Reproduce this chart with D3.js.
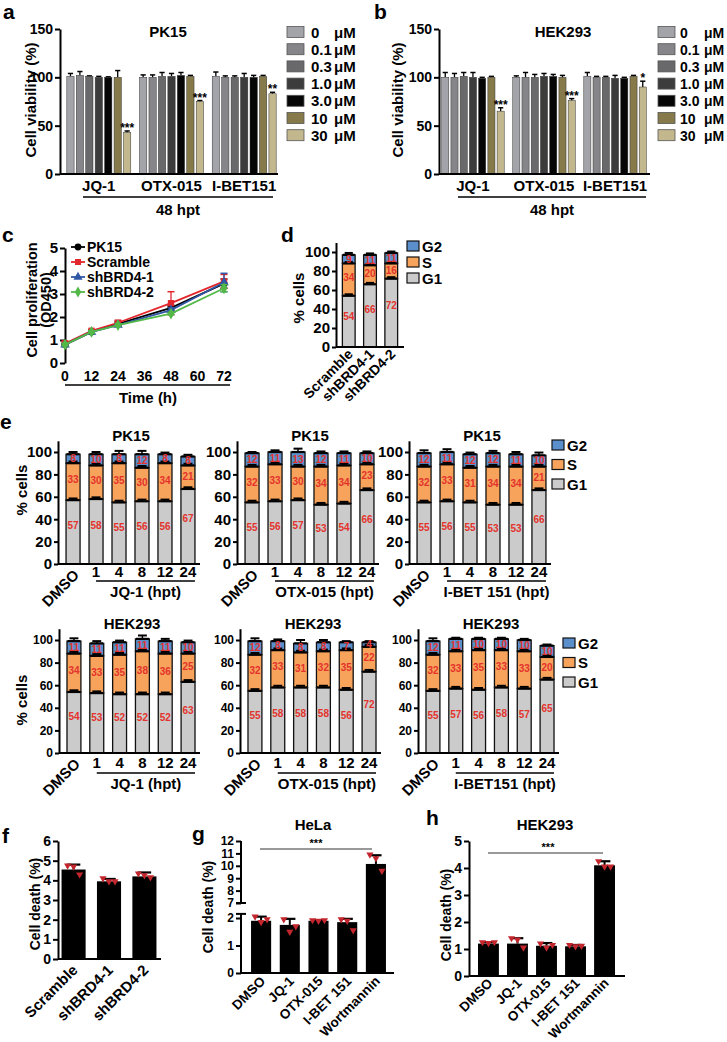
<!DOCTYPE html>
<html><head><meta charset="utf-8">
<script src="https://cdn.jsdelivr.net/npm/d3@7"></script>
<style>
body{margin:0;background:#fff;}
text{font-family:"Liberation Sans",Arial,Helvetica,sans-serif;font-weight:bold;}
</style></head><body>
<svg id="fig" width="727" height="1042"></svg>
<script>
// ---------------- DATA ----------------
const concLabels = ["0","0.1","0.3","1.0","3.0","10","30"];
const concColors = ["#a3a3aa","#86868a","#69696c","#3c3c3c","#060606","#877a4a","#c3b88d"];
const drugs = ["JQ-1","OTX-015","I-BET151"];
const vTicks = [0,50,100,150];
const pk15Viab = [[101,102,101,100,100,100,43],[100,100,101,101,102,101,75],[101,100,100,100,100,101,83]];
const pk15Err  = [[3,4,0.5,1,0.5,7,1.5],[2.5,2.5,4,3,3,1,1],[4.5,1.5,1.5,4,2,1,1.5]];
const pk15Sig  = ["***","***","**"];
const hekViab  = [[100,100,101,100,99,100,65],[100,100,100,101,101,100,76],[101,100,100,99,99,101,90]];
const hekErr   = [[5,4,4,5,1,1,3.5],[1.5,5,3,3,2,2,2],[4,1,1,3,1,1,6]];
const hekSig   = ["***","***","*"];

const cTimes = [0,12,24,48,72];
const cTicks = [0,12,24,36,48,60,72];
const cNames = ["PK15","Scramble","shBRD4-1","shBRD4-2"];
const cPK15     = [0.8,1.35,1.7,2.4,3.45];
const cScramble = [0.85,1.4,1.75,2.6,3.55];
const cSh1      = [0.8,1.35,1.65,2.3,3.5];
const cSh2      = [0.8,1.35,1.65,2.15,3.25];
const cPK15Err     = [0.05,0.05,0.1,0.1,0.2];
const cScrambleErr = [0.1,0.05,0.1,0.5,0.3];
const cSh1Err      = [0.05,0.05,0.05,0.1,0.4];
const cSh2Err      = [0.05,0.05,0.05,0.05,0.15];
const cColors = ["#000000","#e3262b","#2f57a6","#53b848"];

const phases = ["G1","S","G2"];
const phaseColors = {G1:"#cbcbcb", S:"#f7a35b", G2:"#5b8fcc"};
const legendPhases = ["G2","S","G1"];
const pctTicks = [0,20,40,60,80,100];

const dCats = ["Scramble","shBRD4-1","shBRD4-2"];
const dG1 = [54,66,72];
const dS  = [34,20,16];
const dG2 = [9,11,11];
const dErr = [2,1.5,1.5];

const eCats = ["DMSO","1","4","8","12","24"];
const ePK15Drugs = ["JQ-1 (hpt)","OTX-015 (hpt)","I-BET 151 (hpt)"];
const eHEKDrugs  = ["JQ-1 (hpt)","OTX-015 (hpt)","I-BET151 (hpt)"];
const ePK15G1  = [[57,58,55,56,56,67],[55,56,57,53,54,66],[55,56,55,53,53,66]];
const ePK15S   = [[33,30,35,30,34,21],[32,33,30,34,34,23],[32,33,31,34,34,21]];
const ePK15G2  = [[8,10,8,12,8,8],[12,11,13,12,11,10],[12,11,12,12,11,10]];
const ePK15Err = [[2,2,3,3,1.5,1.5],[1,1.5,3,1.5,1.5,1.5],[2.5,2.5,1.5,2,2,2.5]];
const eHEKG1   = [[54,53,52,52,52,63],[55,58,58,58,56,72],[55,57,56,58,57,65]];
const eHEKS    = [[34,33,35,38,36,25],[32,33,31,32,35,22],[32,33,35,33,33,20]];
const eHEKG2   = [[11,11,11,11,11,10],[12,8,8,8,7,4],[12,11,10,10,10,10]];
const eHEKErr  = [[2.5,2,1.5,3,2,1.5],[2.5,1.5,3,2,1,1],[2.5,1,1,1,1,1]];
const boundaryErr = 1.5;

const fCats = ["Scramble","shBRD4-1","shBRD4-2"];
const fVals = [4.55,3.95,4.2];
const fErr  = [0.25,0.12,0.2];
const fPts  = [[4.75,4.7,4.3],[4.1,3.95,3.95],[4.35,4.25,4.15]];
const fTicks = [0,1,2,3,4,5,6];

const ghCats = ["DMSO","JQ-1","OTX-015","I-BET 151","Wortmannin"];
const gVals = [1.9,1.75,1.9,1.85,10.15];
const gErr  = [0.15,0.22,0.02,0.12,0.7];
const gPts  = [[2.05,1.85,1.95],[1.95,1.5,1.7],[1.92,1.9,1.92],[1.95,1.9,1.55],[10.9,10.6,9.6]];
const gTicksLow = [0,1,2];
const gTicksHigh = [7,8,9,10,11,12];
const hVals = [1.2,1.2,1.12,1.1,4.1];
const hErr  = [0.05,0.2,0.1,0.05,0.15];
const hPts  = [[1.25,1.22,1.25],[1.4,1.35,1.05],[1.2,1.05,1.15],[1.15,1.1,1.12],[4.25,4.05,4.05]];
const hTicks = [0,1,2,3,4,5];

// ---------------- HELPERS ----------------
const svg = d3.select("#fig");
svg.append("rect").attr("width",727).attr("height",1042).attr("fill","#fff");
const intFmt = d3.format("d");
function addText(g,x,y,s,fs,anchor){return g.append("text").attr("x",x).attr("y",y).attr("font-size",fs).attr("text-anchor",anchor||"middle").attr("fill","#000").text(s);}
function addRot(g,x,y,s,fs,ang,anchor){return g.append("text").attr("transform",`translate(${x},${y}) rotate(${ang})`).attr("font-size",fs).attr("text-anchor",anchor||"middle").attr("fill","#000").text(s);}
function hline(g,x1,x2,y,w,c){g.append("line").attr("x1",x1).attr("x2",x2).attr("y1",y).attr("y2",y).attr("stroke",c||"#000").attr("stroke-width",w||2);}
function vline(g,x,y1,y2,w,c){g.append("line").attr("x1",x).attr("x2",x).attr("y1",y1).attr("y2",y2).attr("stroke",c||"#000").attr("stroke-width",w||2);}
function styleAxis(a,fs){
  a.select(".domain").attr("stroke","#000").attr("stroke-width",2);
  a.selectAll(".tick line").attr("stroke","#000").attr("stroke-width",2);
  a.selectAll(".tick text").attr("font-size",fs).attr("fill","#000");
}
// panel letters
[["a",3,19],["b",374,19],["c",2,242],["d",281,242],["e",0,429],["f",2,843],["g",192,841],["h",426,825]]
  .forEach(p=>addText(svg,p[1],p[2],p[0],21,"start"));

// ---------------- a / b ----------------
function viability(o){
  const g=svg.append("g");
  const y=d3.scaleLinear().domain([0,150]).range([174,29]);
  const x0=d3.scaleBand().domain(drugs).range(o.range).paddingInner(0.12).paddingOuter(0.08);
  const x1=d3.scaleBand().domain(concLabels).range([0,x0.bandwidth()]).paddingInner(0.23);
  const bw=x1.bandwidth();
  drugs.forEach((dr,i)=>{
    concLabels.forEach((c,j)=>{
      const v=o.vals[i][j], e=o.errs[i][j], bx=x0(dr)+x1(c), cx=bx+bw/2;
      vline(g,cx,y(v),y(v+e),1.3);
      hline(g,cx-2.6,cx+2.6,y(v+e),1.5);
      g.append("rect").attr("x",bx).attr("y",y(v)).attr("width",bw).attr("height",y(0)-y(v))
        .attr("fill",concColors[j]).attr("stroke","#333").attr("stroke-width",0.5);
    });
    const last=concLabels.length-1, v=o.vals[i][last], e=o.errs[i][last];
    addText(g,x0(dr)+x1(concLabels[last])+bw/2,y(v+e)+1,o.sig[i],12);
    addText(g,x0(dr)+x0.bandwidth()/2,191,dr,15);
  });
  const ax=g.append("g").attr("transform",`translate(${o.axisX},0)`)
    .call(d3.axisLeft(y).tickValues(vTicks).tickFormat(intFmt).tickSize(5).tickSizeOuter(0).tickPadding(2));
  styleAxis(ax,14);
  hline(g,o.axisX,o.axisEnd,y(0),2);
  hline(g,o.ul[0],o.ul[1],197,1.5);
  addText(g,o.hptX,215,"48 hpt",15);
  addText(g,o.titleX,37,o.title,15);
  addRot(g,o.ylabX,100,"Cell viability (%)",15,-90);
  concLabels.forEach((c,j)=>{
    const cy=32+j*17.2;
    g.append("rect").attr("x",o.legX).attr("y",cy-5.5).attr("width",17).attr("height",11)
      .attr("fill",concColors[j]).attr("stroke","#555").attr("stroke-width",0.8);
    addText(g,o.legX+o.numDx,cy+5.5,c,o.lfs,"start");
    addText(g,o.muX,cy+5.5,"μM",o.lfs,"start");
  });
}
viability({title:"PK15",titleX:168,vals:pk15Viab,errs:pk15Err,sig:pk15Sig,range:[61,282],axisX:60,axisEnd:278,
  ul:[83,273],hptX:178,ylabX:36,legX:287,numDx:24,muX:334,lfs:15});
viability({title:"HEK293",titleX:563,vals:hekViab,errs:hekErr,sig:hekSig,range:[436,652],axisX:439,axisEnd:650,
  ul:[458,646],hptX:552,ylabX:403,legX:658,numDx:22,muX:704,lfs:14});

// ---------------- c ----------------
(function(){
  const g=svg.append("g");
  const x=d3.scaleLinear().domain([0,72]).range([65,224]);
  const y=d3.scaleLinear().domain([0,5]).range([363,248]);
  const ax=g.append("g").attr("transform","translate(65,0)")
    .call(d3.axisLeft(y).ticks(5).tickFormat(intFmt).tickSize(5).tickSizeOuter(0).tickPadding(2));
  styleAxis(ax,15);
  cTicks.forEach(t=>addText(g,x(t),381,String(t),14));
  hline(g,65,230,385,1.5);
  addText(g,148,403,"Time (h)",15);
  addRot(g,37,300,"Cell proliferation",14.5,-90);
  addRot(g,51,300,"(OD450)",14.5,-90);
  const series=[cPK15,cScramble,cSh1,cSh2], errs=[cPK15Err,cScrambleErr,cSh1Err,cSh2Err];
  const syms=[d3.symbolCircle,d3.symbolSquare,d3.symbolTriangle,d3.symbolDiamond];
  series.forEach((vals,k)=>{
    const col=cColors[k];
    g.append("path").datum(vals).attr("d",d3.line().x((d,i)=>x(cTimes[i])).y(d=>y(d)))
      .attr("fill","none").attr("stroke",col).attr("stroke-width",1.8);
    vals.forEach((v,i)=>{
      const cx=x(cTimes[i]), e=errs[k][i];
      vline(g,cx,y(v-e),y(v+e),1.3,col);
      hline(g,cx-3.5,cx+3.5,y(v+e),1.5,col);
      hline(g,cx-3.5,cx+3.5,y(v-e),1.5,col);
      g.append("path").attr("d",d3.symbol(syms[k],40)()).attr("transform",`translate(${cx},${y(v)})`).attr("fill",col);
    });
    const ly=247+k*15;
    hline(g,71,85,ly,1.8,col);
    g.append("path").attr("d",d3.symbol(syms[k],36)()).attr("transform",`translate(78,${ly})`).attr("fill",col);
    addText(g,87,ly+5,cNames[k],14,"start");
  });
})();

// ---------------- stacked helper ----------------
function stacked(o){
  const g=svg.append("g");
  const y=d3.scaleLinear().domain([0,110]).range([o.base,o.base-110*o.per]);
  const x=d3.scaleBand().domain(o.cats).range(o.range).paddingInner(o.pi).paddingOuter(o.po);
  const bw=x.bandwidth();
  const rows=o.cats.map((c,i)=>({cat:c,G1:o.g1[i],S:o.s[i],G2:o.g2[i],err:o.err[i]}));
  const ser=d3.stack().keys(phases)(rows);
  ser.forEach(s=>s.forEach(d=>{
    g.append("rect").attr("x",x(d.data.cat)).attr("y",y(d[1])).attr("width",bw).attr("height",y(d[0])-y(d[1]))
      .attr("fill",phaseColors[s.key]).attr("stroke","#111").attr("stroke-width",1.3);
  }));
  ser.forEach(s=>s.forEach(d=>{
    const e=s.key==="G2"?d.data.err:boundaryErr, bx=x(d.data.cat), cx=bx+bw/2;
    hline(g,bx+0.5,bx+bw-0.5,y(d[1]),2.2);
    vline(g,cx,y(d[1]),y(d[1]+e),1.5);
    hline(g,cx-bw*0.32,cx+bw*0.32,y(d[1]+e),2);
  }));
  const frac={G1:0.6,S:0.55,G2:0.5};
  ser.forEach(s=>s.forEach(d=>{
    const v=d[1]-d[0];
    addText(g,x(d.data.cat)+bw/2,y(d[0]+v*frac[s.key]),String(v),o.lf).attr("dy","0.35em").attr("fill","#e4322c");
  }));
  const ax=g.append("g").attr("transform",`translate(${o.axisX},0)`)
    .call(d3.axisLeft(y).tickValues(pctTicks).tickFormat(intFmt).tickSize(4).tickSizeOuter(0).tickPadding(2));
  styleAxis(ax,o.tf);
  hline(g,o.axisX,o.axisEnd,y(0),2);
  return {g,x,y,bw};
}
function phaseLegend(x,y0,step){
  legendPhases.forEach((p,i)=>{
    const cy=y0+i*step;
    svg.append("rect").attr("x",x).attr("y",cy-5).attr("width",12).attr("height",10)
      .attr("fill",phaseColors[p]).attr("stroke","#111").attr("stroke-width",1.2);
    addText(svg,x+15,cy+5.5,p,15,"start");
  });
}

// ---------------- d ----------------
(function(){
  const r=stacked({cats:dCats,g1:dG1,s:dS,g2:dG2,err:dErr,base:347,per:0.95,range:[336,404],pi:0.4,po:0.3,
    axisX:336,axisEnd:404,tf:15,lf:10});
  dCats.forEach(c=>addRot(r.g,r.x(c)+r.bw/2+5,355,c,14,-45,"end"));
  addRot(r.g,304,298,"% cells",15,-90);
  phaseLegend(407,246,16);
})();

// ---------------- e ----------------
function eRow(cfg){
  cfg.axes.forEach((ax,k)=>{
    const r=stacked({cats:eCats,g1:cfg.g1[k],s:cfg.s[k],g2:cfg.g2[k],err:cfg.err[k],base:cfg.base,per:cfg.per,
      range:[ax,ax+cfg.w],pi:0.39,po:0.35,axisX:ax,axisEnd:ax+cfg.w-3,tf:cfg.tf,lf:10});
    const cxs=eCats.map(c=>r.x(c)+r.bw/2);
    addRot(r.g,cxs[0]+7,cfg.base+12,eCats[0],15,-45,"end");
    eCats.slice(1).forEach((c,i)=>addText(r.g,cxs[i+1],cfg.tickY,c,15));
    const u0=cxs[1], u1=r.x(eCats[eCats.length-1])+r.bw;
    hline(r.g,u0,u1,cfg.ulY,1.5);
    addText(r.g,(u0+u1)/2,cfg.drugY,cfg.drugs[k],15);
    addText(r.g,ax+73,cfg.titleY,cfg.title,15);
    if(k===0) addRot(r.g,27,cfg.ylabY,"% cells",15,-90);
  });
}
eRow({axes:[58,237,409],w:145,base:564,per:1.12,g1:ePK15G1,s:ePK15S,g2:ePK15G2,err:ePK15Err,tf:15,
  tickY:577,ulY:581,drugY:597,titleY:441,title:"PK15",drugs:ePK15Drugs,ylabY:490});
phaseLegend(552,445,19.5);
eRow({axes:[59,240,418],w:144,base:753,per:1.13,g1:eHEKG1,s:eHEKS,g2:eHEKG2,err:eHEKErr,tf:12,
  tickY:768,ulY:773,drugY:789,titleY:629,title:"HEK293",drugs:eHEKDrugs,ylabY:700});
phaseLegend(563,643,19.5);

// ---------------- f / g / h ----------------
function deathBars(g,o){
  const x=d3.scaleBand().domain(o.cats).range(o.range).paddingInner(o.pi).paddingOuter(o.po);
  const bw=x.bandwidth(), y=o.y, offs=[-6,0,6];
  o.cats.forEach((c,i)=>{
    const bx=x(c), cx=bx+bw/2, v=o.vals[i], e=o.errs[i];
    vline(g,cx,y(v),y(v+e),2);
    hline(g,cx-bw*0.28,cx+bw*0.28,y(v+e),2.2);
    g.append("rect").attr("x",bx).attr("y",y(v)).attr("width",bw).attr("height",y(0)-y(v)).attr("fill","#000");
    o.pts[i].forEach((p,k)=>{
      g.append("path").attr("d",d3.symbol(d3.symbolTriangle,22)())
        .attr("transform",`translate(${cx+offs[k]},${y(p)}) rotate(180)`).attr("fill","#c4262e");
    });
    addRot(g,cx+5,y(0)+o.ldy,c,o.lfs,-45,"end");
  });
  hline(g,o.axisX,o.axisEnd,y(0),2);
  return x;
}
// f
(function(){
  const g=svg.append("g");
  const y=d3.scaleLinear().domain([0,6]).range([959,841]);
  deathBars(g,{cats:fCats,vals:fVals,errs:fErr,pts:fPts,y:y,range:[58,160],pi:0.32,po:0.1,axisX:58,axisEnd:161,lfs:15,ldy:12});
  const ax=g.append("g").attr("transform","translate(58,0)")
    .call(d3.axisLeft(y).tickValues(fTicks).tickFormat(intFmt).tickSize(5).tickSizeOuter(0).tickPadding(2));
  styleAxis(ax,14);
  addRot(g,40,904,"Cell death (%)",14,-90);
})();
// g (broken axis)
(function(){
  const g=svg.append("g");
  const y=d3.scaleLinear().domain([0,2.15,7,12]).range([973,913.9,903,841]);
  deathBars(g,{cats:ghCats,vals:gVals,errs:gErr,pts:gPts,y:y,range:[241,396],pi:0.3,po:0.35,axisX:241,axisEnd:394,lfs:13.5,ldy:9});
  const ax=g.append("g").attr("transform","translate(241,0)")
    .call(d3.axisLeft(y).tickValues(gTicksLow.concat(gTicksHigh)).tickFormat(intFmt).tickSize(5).tickSizeOuter(0).tickPadding(2));
  styleAxis(ax,12);
  ax.select(".domain").remove();
  vline(g,241,y(0),y(2.15),2);
  vline(g,241,y(7),y(12),2);
  hline(g,236,246,y(2.15),2);
  hline(g,236,246,y(7),2);
  addRot(g,213,907,"Cell death (%)",14,-90);
  addText(g,313,830,"HeLa",15);
  hline(g,260,372,849,1.5,"#777");
  addText(g,316,847,"***",11);
})();
// h
(function(){
  const g=svg.append("g");
  const y=d3.scaleLinear().domain([0,5]).range([976,841]);
  deathBars(g,{cats:ghCats,vals:hVals,errs:hErr,pts:hPts,y:y,range:[469,624],pi:0.28,po:0.31,axisX:469,axisEnd:625,lfs:13.5,ldy:8});
  const ax=g.append("g").attr("transform","translate(469,0)")
    .call(d3.axisLeft(y).tickValues(hTicks).tickFormat(intFmt).tickSize(5).tickSizeOuter(0).tickPadding(2));
  styleAxis(ax,14);
  addRot(g,451,915,"Cell death (%)",14,-90);
  addText(g,545,830,"HEK293",15);
  hline(g,488,603,853,1.5,"#777");
  addText(g,548,851,"***",11);
})();
</script></body></html>
